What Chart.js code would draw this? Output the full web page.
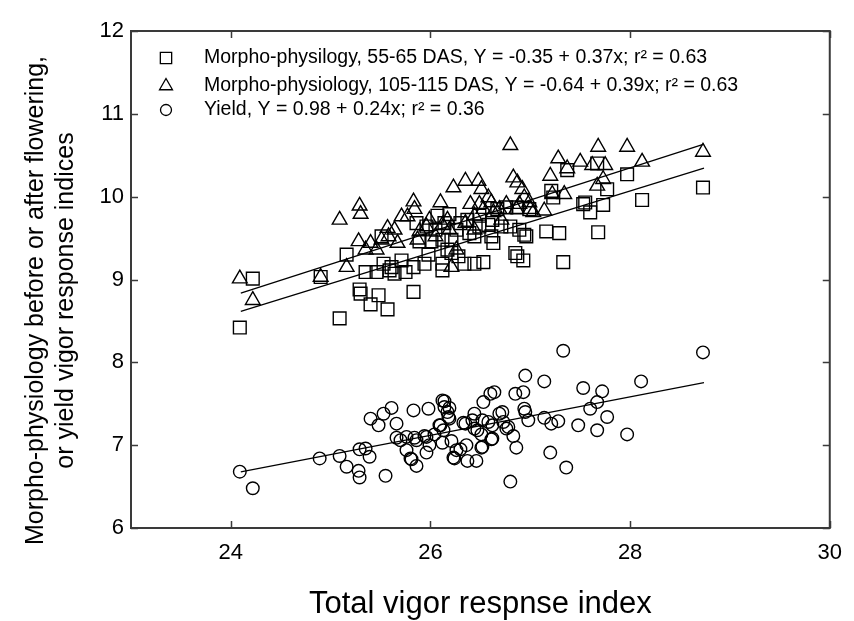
<!DOCTYPE html>
<html>
<head>
<meta charset="utf-8">
<script src="https://cdn.jsdelivr.net/npm/chart.js@4.4.1/dist/chart.umd.min.js"></script>
<style>
html,body{margin:0;padding:0;background:#fff;}
#wrap{width:854px;height:621px;position:relative;}
</style>
</head>
<body>
<div id="wrap"><canvas id="c" width="854" height="621"></canvas></div>
<script>
// ---- Data ----
const xTickValues = [24, 26, 28, 30];
const yTickValues = [6, 7, 8, 9, 10, 11, 12];

const seriesLabels = [
  "Morpho-physilogy, 55-65 DAS, Y = -0.35 + 0.37x; r\u00B2 = 0.63",
  "Morpho-physiology, 105-115 DAS, Y = -0.64 + 0.39x; r\u00B2 = 0.63",
  "Yield, Y = 0.98 + 0.24x; r\u00B2 = 0.36"
];

// Squares: Morpho-physiology 55-65 DAS
const sqX = [24.09,24.22,24.90,25.09,25.16,25.29,25.30,25.40,25.48,25.57,25.35,25.46,25.53,25.61,25.64,25.75,25.83,25.83,25.86,25.89,25.98,26.01,26.05,26.12,26.17,26.21,26.26,26.28,26.34,26.44,26.53,26.44,26.49,26.58,26.63,26.61,26.71,26.76,26.85,26.87,26.93,26.94,26.96,26.87,26.99,27.16,27.21,27.23,27.29,27.33,27.37,27.53,27.55,27.60,27.67,27.68,27.73,27.77,27.97,28.12,28.73,25.96,26.07,26.14,26.19,26.30,26.37,26.39,26.49,26.62,26.67,26.80,26.89,26.12,26.21,26.12,25.94,25.71,25.59,25.51];
const sqY = [8.42,9.01,9.03,8.53,9.30,8.88,8.83,8.70,8.81,8.64,9.09,9.09,9.19,9.15,9.07,9.09,8.85,9.15,9.68,9.46,9.30,9.46,9.60,9.11,9.36,9.48,9.60,9.28,9.19,9.19,9.21,9.52,9.64,9.66,9.44,9.52,9.64,9.87,9.32,9.28,9.23,9.54,9.52,9.87,9.85,9.58,10.07,9.99,9.56,9.21,10.32,9.91,9.93,9.81,10.40,9.57,9.90,10.09,10.27,9.96,10.11,9.64,9.77,9.68,9.79,9.68,9.72,9.56,9.77,9.72,9.85,9.64,9.60,9.48,9.32,9.19,9.19,9.23,9.11,9.52];

// Triangles: Morpho-physiology 105-115 DAS
const trX = [24.09,24.22,24.90,25.09,25.29,25.30,25.28,25.35,25.40,25.51,25.57,25.58,25.67,25.16,25.77,25.83,25.84,25.87,25.99,26.10,26.12,26.19,26.23,26.35,26.48,26.51,26.40,26.49,26.58,26.61,26.44,26.63,26.80,26.83,26.87,26.92,26.94,26.99,26.86,27.00,27.14,27.20,27.22,27.28,27.34,27.37,27.50,27.62,27.68,27.67,27.75,27.73,27.97,28.12,28.73,25.89,25.96,26.05,26.17,26.26,26.21,26.35,26.44,26.53,26.69,26.76,26.71,26.89,27.03,25.46,25.64,25.71];
const trY = [9.01,8.75,9.03,9.72,9.89,9.79,9.46,9.36,9.44,9.48,9.62,9.52,9.44,9.15,9.76,9.94,9.85,9.48,9.72,9.93,9.66,9.60,10.11,10.19,10.19,10.09,9.91,9.91,9.99,9.93,9.77,9.81,10.62,10.23,10.17,10.09,9.99,9.93,9.85,9.85,9.83,10.25,10.03,10.46,10.03,10.34,10.42,10.38,10.60,10.13,10.38,10.21,10.60,10.42,10.54,9.58,9.64,9.52,9.72,9.36,9.15,9.68,9.60,9.85,9.85,9.91,9.72,9.91,9.81,9.36,9.60,9.76];

// Circles: Yield
const ciX = [24.09,24.22,24.89,25.09,25.16,25.29,25.28,25.29,25.35,25.39,25.40,25.48,25.53,25.61,25.55,25.66,25.66,25.76,25.81,25.83,25.86,25.84,25.94,25.98,25.96,26.04,26.12,26.14,26.17,26.19,26.10,26.12,26.21,26.23,26.30,26.35,26.37,26.44,26.46,26.51,26.44,26.53,26.60,26.64,26.58,26.61,26.51,26.69,26.73,26.76,26.83,26.86,26.80,26.85,26.93,26.95,26.94,26.95,26.98,27.14,27.14,27.21,27.20,27.28,27.33,27.36,27.48,27.53,27.60,27.67,27.67,27.72,27.77,27.97,28.11,28.73,26.14,26.19,26.18,26.09,26.13,26.33,26.42,26.52,26.47,26.36,26.52,26.62,26.62,26.72,26.78,25.76,25.86,25.96,25.99,25.80,25.70,26.26,26.24];
const ciY = [6.68,6.48,6.84,6.87,6.74,6.95,6.69,6.61,6.96,6.86,7.32,7.24,7.38,7.45,6.63,7.26,7.09,6.94,6.83,7.42,6.75,7.09,7.11,7.44,6.91,7.13,7.54,7.46,7.40,7.32,7.24,7.03,7.05,6.85,6.95,7.26,6.81,7.20,6.81,6.97,7.38,7.52,7.62,7.64,7.28,7.07,7.13,7.38,7.28,7.20,7.11,6.97,6.56,7.62,7.64,7.84,7.44,7.40,7.30,7.77,7.33,7.26,6.91,7.29,8.14,6.73,7.24,7.69,7.44,7.18,7.52,7.65,7.34,7.13,7.77,8.12,7.53,7.45,7.34,7.24,7.18,7.27,7.30,7.30,7.18,7.00,6.98,7.08,7.24,7.40,7.22,7.10,7.06,7.10,7.00,6.84,7.06,6.94,6.84];

// Fitted lines (end points)
const fitX = [24.10, 28.74];
const fitSq = [8.615, 10.344];
const fitTr = [8.835, 10.634];
const fitCi = [6.678, 7.755];

// ---- Chart ----
const FONT = "'Liberation Sans', Arial, sans-serif";
const toPts = (xs, ys) => xs.map((x, i) => ({x: x, y: ys[i]}));

const AREA = {left: 131, right: 838, top: 31, bottom: 528};

const framePlugin = {
  id: 'frame',
  afterDraw(chart) {
    const ctx = chart.ctx;
    const xs = chart.scales.x, ys = chart.scales.y;
    const a = chart.chartArea;
    ctx.save();
    ctx.strokeStyle = '#3a3a3a';
    ctx.lineWidth = 2;
    ctx.strokeRect(a.left, a.top, a.right - a.left, a.bottom - a.top);
    ctx.lineWidth = 1.5;
    ctx.beginPath();
    const tl = 7;
    xTickValues.forEach(v => {
      const px = Math.round(xs.getPixelForValue(v)) + 0.5;
      ctx.moveTo(px, a.bottom); ctx.lineTo(px, a.bottom - tl);
      ctx.moveTo(px, a.top); ctx.lineTo(px, a.top + tl);
    });
    yTickValues.forEach(v => {
      const py = Math.round(ys.getPixelForValue(v)) + 0.5;
      ctx.moveTo(a.left, py); ctx.lineTo(a.left + tl, py);
      ctx.moveTo(a.right, py); ctx.lineTo(a.right - tl, py);
    });
    ctx.stroke();

    // Axis titles
    ctx.fillStyle = '#000';
    ctx.textAlign = 'center';
    ctx.textBaseline = 'middle';
    ctx.font = '31px ' + FONT;
    ctx.fillText('Total vigor respnse index', (a.left + a.right) / 2, 604);
    ctx.save();
    ctx.translate(36, (a.top + a.bottom) / 2 + 21);
    ctx.rotate(-Math.PI / 2);
    ctx.font = '25px ' + FONT;
    ctx.fillText('Morpho-physiology before or after flowering,', 0, 0);
    ctx.fillText('or yield vigor response indices', 0, 30);
    ctx.restore();

    // Legend
    const rows = [58, 86, 110];
    const styles = ['rect', 'triangle', 'circle'];
    const radii = [8, 7.5, 5.5];
    ctx.font = '19.5px ' + FONT;
    ctx.textAlign = 'left';
    rows.forEach((ry, i) => {
      ctx.fillStyle = 'rgba(0,0,0,0)';
      ctx.strokeStyle = '#000';
      ctx.lineWidth = 1.3;
      Chart.helpers.drawPoint(ctx, {pointStyle: styles[i], radius: radii[i], borderWidth: 1.3, rotation: 0}, 166, ry);
      ctx.fillStyle = '#000';
      ctx.fillText(seriesLabels[i], 204, ry);
    });
    ctx.restore();
  }
};

const markerCommon = {
  showLine: false,
  backgroundColor: 'rgba(0,0,0,0)',
  borderColor: '#000',
  pointBackgroundColor: 'rgba(0,0,0,0)',
  pointBorderColor: '#000',
  pointBorderWidth: 1.4,
  pointHoverRadius: 0
};
const lineCommon = {
  showLine: true,
  borderColor: '#000',
  borderWidth: 1.3,
  pointRadius: 0,
  fill: false,
  tension: 0
};

new Chart(document.getElementById('c'), {
  type: 'scatter',
  data: {
    datasets: [
      Object.assign({label: seriesLabels[0], data: toPts(sqX, sqY), pointStyle: 'rect', pointRadius: 9}, markerCommon),
      Object.assign({label: seriesLabels[1], data: toPts(trX, trY), pointStyle: 'triangle', pointRadius: 8.5}, markerCommon),
      Object.assign({label: seriesLabels[2], data: toPts(ciX, ciY), pointStyle: 'circle', pointRadius: 6.3}, markerCommon),
      Object.assign({label: 'fit1', data: toPts(fitX, fitSq)}, lineCommon),
      Object.assign({label: 'fit2', data: toPts(fitX, fitTr)}, lineCommon),
      Object.assign({label: 'fit3', data: toPts(fitX, fitCi)}, lineCommon)
    ]
  },
  options: {
    responsive: false,
    animation: false,
    devicePixelRatio: 1,
    layout: {padding: {left: 0, top: AREA.top, right: 854 - AREA.right, bottom: 0}},
    plugins: {legend: {display: false}, tooltip: {enabled: false}},
    scales: {
      x: {
        type: 'linear', min: 23, max: 30,
        afterBuildTicks: s => { s.ticks = xTickValues.map(v => ({value: v})); },
        afterFit: s => { s.height = 621 - AREA.bottom; },
        grid: {display: false, drawTicks: false},
        border: {display: false},
        ticks: {color: '#000', font: {family: FONT, size: 22}, padding: 12, maxRotation: 0}
      },
      y: {
        type: 'linear', min: 6, max: 12,
        afterBuildTicks: s => { s.ticks = yTickValues.map(v => ({value: v})); },
        afterFit: s => { s.width = AREA.left; },
        grid: {display: false, drawTicks: false},
        border: {display: false},
        ticks: {color: '#000', font: {family: FONT, size: 22}, padding: 7}
      }
    }
  },
  plugins: [framePlugin]
});
</script>
</body>
</html>
